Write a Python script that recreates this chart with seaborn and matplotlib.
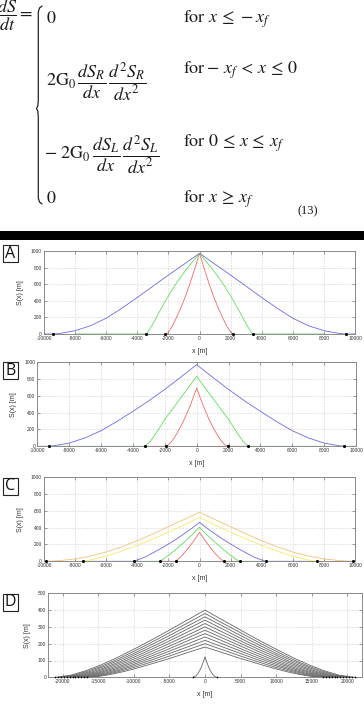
import matplotlib
matplotlib.use("Agg")
import matplotlib.pyplot as plt
import seaborn as sns
import pandas as pd
from matplotlib.lines import Line2D
from matplotlib.patches import Rectangle

W, H = 364, 708

# ---- panel A : half profiles (distance from crest [m], S [m]) ----
a_blue_d = [0, 1000, 2000, 3000, 4000, 5000, 6000, 7000, 8000, 9000, 9400]
a_blue_s = [972, 840, 710, 575, 440, 310, 190, 100, 40, 6, 0]
a_green_d = [0, 400, 800, 1200, 1600, 2000, 2400, 2800, 3100, 3400]
a_green_s = [972, 880, 790, 690, 580, 460, 330, 190, 90, 0]
a_red_d = [0, 300, 600, 900, 1200, 1500, 1800, 2100]
a_red_s = [972, 790, 615, 455, 315, 190, 80, 0]
a_fronts = [-9400, -3450, -2200, 2150, 3450, 9400]

# ---- panel B ----
b_blue_d = [0, 1000, 2000, 3000, 4000, 5000, 6000, 7000, 8000, 9000, 9300]
b_blue_s = [968, 820, 675, 540, 415, 295, 185, 100, 38, 5, 0]
b_green_d = [0, 500, 1000, 1500, 2000, 2500, 2900, 3250]
b_green_s = [830, 700, 575, 445, 320, 170, 60, 0]
b_red_d = [0, 250, 500, 750, 1000, 1250, 1500, 1750, 1950]
b_red_s = [692, 560, 440, 330, 235, 150, 75, 20, 0]
b_fronts = [-9270, -3240, -1925, 1945, 3240, 9270]

# ---- panel C ----
c_orange_d = [0, 1000, 2000, 3000, 4000, 5000, 6000, 7000, 8000, 9000, 9900]
c_orange_s = [581, 495, 410, 325, 245, 172, 110, 62, 28, 8, 0]
c_yellow_d = [0, 1000, 2000, 3000, 4000, 5000, 6000, 7000, 7550]
c_yellow_s = [522, 430, 345, 265, 190, 120, 60, 15, 0]
c_blue_d = [0, 500, 1000, 1500, 2000, 2500, 3000, 3500, 4000, 4250]
c_blue_s = [462, 390, 325, 262, 205, 150, 100, 50, 15, 0]
c_green_d = [0, 500, 1000, 1500, 2000, 2300, 2550]
c_green_s = [403, 310, 225, 145, 70, 30, 0]
c_red_d = [0, 250, 500, 750, 1000, 1250, 1550]
c_red_s = [344, 275, 210, 150, 95, 45, 0]
c_fronts = [-9870, -7510, -4210, -2530, -1520, 1565, 2575, 4250, 7550, 9870]

# ---- panel D : sampled at fractions of each front ----
d_frac = [0, .1, .2, .3, .4, .5, .6, .7, .8, .9, 1.0]
d_fronts = [21000, 20600, 20200, 19800, 19400, 19000, 18600, 18200, 17800, 17400, 17000, 16600]
d_heights = [
    [400, 350, 300, 250, 202, 156, 112, 72, 38, 12, 0],
    [380, 332, 285, 238, 192, 148, 106, 68, 36, 11, 0],
    [360, 315, 270, 225, 182, 140, 101, 65, 34, 11, 0],
    [340, 298, 255, 212, 172, 133, 95, 61, 32, 10, 0],
    [320, 280, 240, 200, 162, 125, 90, 58, 30, 10, 0],
    [300, 262, 225, 188, 152, 117, 84, 54, 28, 9, 0],
    [280, 245, 210, 175, 141, 109, 78, 50, 27, 8, 0],
    [260, 228, 195, 162, 131, 101, 73, 47, 25, 8, 0],
    [240, 210, 180, 150, 121, 94, 67, 43, 23, 7, 0],
    [220, 192, 165, 138, 111, 86, 62, 40, 21, 7, 0],
    [200, 175, 150, 125, 101, 78, 56, 36, 19, 6, 0],
    [180, 158, 135, 112, 91, 70, 50, 32, 17, 5, 0],
]
d_small_d = [0, 250, 500, 750, 1000, 1250, 1500, 1700]
d_small_s = [122, 90, 62, 40, 22, 9, 2, 0]

RED, GREEN, BLUE = "#f06a6a", "#5ee05e", "#6a6ae8"
YELLOW, ORANGE = "#f3ec6c", "#f6c07a"
GRAY = "#666666"


def mirror(d, s, pad=None):
    d, s = list(d), list(s)
    if pad is not None and pad > d[-1]:
        d, s = d + [pad], s + [0]
    return pd.DataFrame({"x": [-v for v in d[::-1]] + d[1:],
                         "S": s[::-1] + s[1:]})


def px_rect(l, t, r, b):
    return [l / W, 1 - b / H, (r - l) / W, (b - t) / H]


def fx(x):
    return x / W


def fy(y):
    return 1 - y / H


def style_ax(ax, xlim, xticks, ylim, yticks):
    ax.set_xlim(*xlim)
    ax.set_ylim(*ylim)
    ax.set_xticks(xticks)
    ax.set_yticks(yticks)
    ax.grid(True, ls=(0, (2.5, 2)), color="#cfcfcf", lw=0.45)
    ax.tick_params(direction="in", length=2, width=0.4, color="#555555",
                   top=True, right=True, bottom=True, left=True,
                   labelsize=3.5, pad=1.5, labelcolor="#333333")
    for sp in ax.spines.values():
        sp.set_color("#8a8a8a")
        sp.set_linewidth(0.7)
    ax.set_xlabel("x [m]", fontsize=5, labelpad=5, color="#333333")
    ax.set_ylabel("S(x) [m]", fontsize=5, labelpad=5, color="#333333")


def curve(ax, df, color):
    sns.lineplot(data=df, x="x", y="S", ax=ax, color=color, lw=0.6,
                 sort=False, estimator=None, legend=False)


def dots(ax, xs, size=5):
    sns.scatterplot(x=xs, y=[0] * len(xs), ax=ax, color="black", s=size,
                    linewidth=0, zorder=5, clip_on=False, legend=False)


sns.set_style("whitegrid")
plt.rcParams["font.family"] = ["Liberation Sans", "DejaVu Sans"]
plt.rcParams["mathtext.fontset"] = "stix"
plt.rcParams["axes.unicode_minus"] = False

fig = plt.figure(figsize=(W / 100, H / 100), dpi=100)

# ---- equation (13) ----
eq = dict(fontsize=13, color="#1a1a1a", family=["STIXGeneral", "DejaVu Serif"])
fig.text(fx(-3), fy(15), r"$\dfrac{dS}{dt} =$", ha="left", va="center", **eq)
fig.text(fx(46), fy(23), r"$0$", ha="left", va="baseline", **eq)
fig.text(fx(46), fy(82), r"$2\mathrm{G}_0\,\dfrac{dS_R}{dx}\,\dfrac{d^2S_R}{dx^2}$",
         ha="left", va="center", **eq)
fig.text(fx(44), fy(155), r"$-\ 2\mathrm{G}_0\,\dfrac{dS_L}{dx}\,\dfrac{d^2S_L}{dx^2}$",
         ha="left", va="center", **eq)
fig.text(fx(46), fy(203), r"$0$", ha="left", va="baseline", **eq)
fig.text(fx(183), fy(23), r"$\mathrm{for}\ x \,\leq\, -x_f$", ha="left", va="baseline", **eq)
fig.text(fx(183), fy(74), r"$\mathrm{for} -\, x_f \,<\, x \,\leq\, 0$", ha="left", va="baseline", **eq)
fig.text(fx(183), fy(147), r"$\mathrm{for}\ 0 \,\leq\, x \,\leq\, x_f$", ha="left", va="baseline", **eq)
fig.text(fx(183), fy(203), r"$\mathrm{for}\ x \,\geq\, x_f$", ha="left", va="baseline", **eq)
fig.text(fx(298), fy(214), "(13)", ha="left", va="baseline", fontsize=9,
         color="#1a1a1a", family=["Liberation Serif", "DejaVu Serif"])

# brace drawn as a thin path
bx = [42, 39.5, 38.3, 38.3, 37.8, 36.5, 37.8, 38.3, 38.3, 39.5, 42]
by = [6, 8, 12, 100, 106, 108.5, 111, 117, 198, 202, 204]
fig.add_artist(Line2D([fx(v) for v in bx], [fy(v) for v in by],
                      transform=fig.transFigure, color="#222222", lw=0.9))

# black separator bar
fig.add_artist(Rectangle((0, fy(240)), 1, 8.5 / H, transform=fig.transFigure,
                         color="black", lw=0))

# ---- panels ----
axA = fig.add_axes(px_rect(44, 251, 355, 334))
curve(axA, mirror(a_blue_d, a_blue_s, 10000), BLUE)
curve(axA, mirror(a_green_d, a_green_s, 8000), GREEN)
curve(axA, mirror(a_red_d, a_red_s), RED)
dots(axA, a_fronts)
style_ax(axA, (-10000, 10000), range(-10000, 10001, 2000), (0, 1000), range(0, 1001, 200))

axB = fig.add_axes(px_rect(37.3, 362, 356, 446.3))
curve(axB, mirror(b_blue_d, b_blue_s, 10000), BLUE)
curve(axB, mirror(b_green_d, b_green_s, 9300), GREEN)
curve(axB, mirror(b_red_d, b_red_s, 3300), RED)
dots(axB, b_fronts)
style_ax(axB, (-10000, 10000), range(-10000, 10001, 2000), (0, 1000), range(0, 1001, 200))

axC = fig.add_axes(px_rect(44, 477, 355, 561.3))
curve(axC, mirror(c_orange_d, c_orange_s, 10000), ORANGE)
curve(axC, mirror(c_yellow_d, c_yellow_s, 8500), YELLOW)
curve(axC, mirror(c_blue_d, c_blue_s, 7000), BLUE)
curve(axC, mirror(c_green_d, c_green_s, 4300), GREEN)
curve(axC, mirror(c_red_d, c_red_s, 2600), RED)
dots(axC, c_fronts)
style_ax(axC, (-10000, 10000), range(-10000, 10001, 2000), (0, 1000), range(0, 1001, 200))

axD = fig.add_axes(px_rect(48.3, 593.3, 361.7, 677.3))
for front, hs in zip(d_fronts, d_heights):
    curve(axD, mirror([f * front for f in d_frac], hs), GRAY)
curve(axD, mirror(d_small_d, d_small_s), GRAY)
dots(axD, [-f for f in d_fronts] + d_fronts + [-1700, 1700], size=1.5)
style_ax(axD, (-22000, 22000), range(-20000, 20001, 5000), (0, 500), range(0, 501, 100))

# panel letters in boxes
for letter, top in zip("ABCD", [245, 362, 478, 594]):
    fig.add_artist(Rectangle((fx(3), fy(top + 17)), 15 / W, 17 / H,
                             transform=fig.transFigure, fc="white",
                             ec="#222222", lw=0.8))
    fig.text(fx(10.5), fy(top + 8.5), letter, ha="center", va="center",
             fontsize=11.5, color="#111111", family=["Open Sans", "DejaVu Sans"])

fig.savefig("out.png", dpi=100)
